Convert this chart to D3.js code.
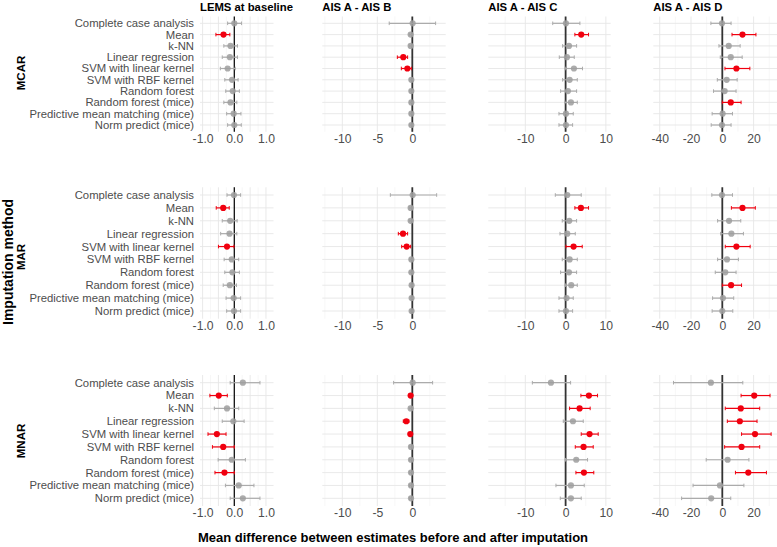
<!DOCTYPE html>
<html lang="en">
<head>
<meta charset="utf-8">
<title>Imputation forest plot</title>
<script src="https://cdn.jsdelivr.net/npm/d3@7"></script>
<style>
  body { margin: 0; background: #fff; }
  svg { font-family: "Liberation Sans", Arial, sans-serif; }
</style>
</head>
<body>
<div id="chart"></div>
<script>
// categories
const methods = ["Complete case analysis", "Mean", "k-NN", "Linear regression",
  "SVM with linear kernel", "SVM with RBF kernel", "Random forest",
  "Random forest (mice)", "Predictive mean matching (mice)", "Norm predict (mice)"];
const outcomes = ["LEMS at baseline", "AIS A - AIS B", "AIS A - AIS C", "AIS A - AIS D"];
const mechanisms = ["MCAR", "MAR", "MNAR"];

// tick labels per outcome column
const tickLabels = [[-1, 0, 1], [-10, -5, 0], [-10, 0, 10], [-40, -20, 0, 20]];

// MCAR: one row per outcome, one value per method
const mcarEst = [
  [0.0, -0.34, -0.12, -0.14, -0.21, -0.07, -0.05, -0.12, -0.02, 0.0],
  [0.05, -0.24, -0.24, -1.29, -0.71, -0.14, -0.14, -0.14, -0.14, -0.14],
  [0.08, 3.88, 0.83, 0.33, 2.07, 1.0, 0.58, 1.32, 0.08, 0.08],
  [-0.2, 12.9, 4.1, 5.4, 9.0, 2.8, 1.5, 5.4, 0.2, -0.2]];
const mcarLow = [
  [-0.21, -0.58, -0.33, -0.38, -0.44, -0.30, -0.27, -0.33, -0.24, -0.21],
  [-3.3, -0.45, -0.45, -2.14, -1.57, -0.35, -0.35, -0.35, -0.35, -0.35],
  [-3.2, 2.3, -0.74, -1.57, -0.1, -0.74, -1.24, -0.17, -1.65, -1.65],
  [-7.3, 6.2, -2.15, -1.3, 1.7, -3.2, -5.6, 0.0, -6.5, -7.1]];
const mcarHigh = [
  [0.23, -0.14, 0.10, 0.10, 0.03, 0.12, 0.16, 0.08, 0.21, 0.22],
  [3.33, 0.0, 0.0, -0.67, -0.14, 0.07, 0.07, 0.07, 0.07, 0.07],
  [3.55, 5.7, 2.73, 2.15, 4.2, 2.9, 2.73, 2.9, 1.9, 1.74],
  [5.6, 21.5, 11.4, 12.7, 17.6, 9.5, 8.8, 12.0, 6.5, 5.6]];
const mcarRed = [[1], [3, 4], [1], [1, 4, 7]];

// MAR
const marEst = [
  [-0.01, -0.35, -0.13, -0.15, -0.23, -0.08, -0.06, -0.14, -0.02, -0.01],
  [0.05, -0.24, -0.24, -1.33, -0.81, -0.14, -0.14, -0.1, -0.1, -0.1],
  [0.41, 3.8, 0.91, 0.41, 1.98, 1.0, 0.83, 1.4, 0.25, 0.08],
  [-0.2, 12.9, 4.3, 5.8, 9.0, 3.0, 1.9, 5.6, 0.4, 0.0]];
const marLow = [
  [-0.23, -0.57, -0.38, -0.43, -0.50, -0.32, -0.30, -0.35, -0.26, -0.24],
  [-3.14, -0.45, -0.45, -2.0, -1.52, -0.35, -0.35, -0.3, -0.3, -0.3],
  [-2.56, 2.3, -0.83, -1.4, 0.08, -0.83, -1.24, -0.08, -1.65, -1.65],
  [-6.7, 5.8, -3.0, -1.1, 1.9, -3.0, -4.5, 0.0, -6.2, -6.5]];
const marHigh = [
  [0.20, -0.16, 0.09, 0.08, -0.01, 0.14, 0.16, 0.07, 0.20, 0.20],
  [3.48, 0.0, 0.0, -0.67, -0.24, 0.07, 0.07, 0.1, 0.1, 0.1],
  [3.88, 5.7, 2.73, 2.4, 4.13, 2.9, 2.73, 2.9, 1.9, 1.74],
  [6.5, 21.1, 11.8, 13.5, 17.8, 10.3, 8.8, 12.3, 7.3, 6.7]];
const marRed = [[1, 4], [3, 4], [1, 4], [1, 4, 7]];

// MNAR
const mnarEst = [
  [0.27, -0.49, -0.23, -0.03, -0.55, -0.35, -0.08, -0.31, 0.14, 0.27],
  [0.05, -0.24, -0.24, -0.86, -0.29, -0.19, -0.19, -0.19, -0.19, -0.19],
  [-3.64, 5.79, 3.47, 1.82, 5.95, 4.46, 2.64, 4.55, 1.32, 1.32],
  [-7.3, 20.4, 11.8, 11.2, 20.9, 12.3, 3.4, 16.6, -1.5, -7.1]];
const mnarLow = [
  [-0.13, -0.77, -0.63, -0.38, -0.83, -0.69, -0.51, -0.61, -0.28, -0.13],
  [-2.67, -0.4, -0.45, -1.29, -0.45, -0.4, -0.4, -0.4, -0.4, -0.4],
  [-8.26, 3.8, 0.99, -0.58, 3.88, 2.4, 0.0, 2.56, -2.4, -1.32],
  [-31.2, 12.0, 1.9, 3.2, 12.3, 1.5, -10.3, 8.4, -18.7, -26.0]];
const mnarHigh = [
  [0.81, -0.22, 0.14, 0.31, -0.26, 0.0, 0.35, 0.0, 0.62, 0.81],
  [2.9, -0.08, 0.0, -0.48, -0.12, 0.02, 0.02, 0.02, 0.02, 0.02],
  [1.24, 7.93, 6.1, 4.38, 8.1, 6.86, 5.45, 7.0, 4.63, 3.88],
  [13.1, 30.5, 23.9, 22.2, 31.2, 23.9, 17.0, 28.2, 13.8, 5.4]];
const mnarRed = [[1, 4, 5, 7], [1, 3, 4], [1, 2, 4, 5, 7], [1, 2, 3, 4, 5, 7]];

const W = 777, H = 547;

// plain hyphen for negatives, like R does
const hy = f => v => f(v).replace("\u2212", "-");

// layout: column panels (pixel range + x domain + grid steps)
const cols = [
  {x0: 200, x1: 273.5, dom: [-1.082, 1.237], major: 0.5, minor: 0.25, fmt: hy(d3.format(".1f"))},
  {x0: 322.3, x1: 445.7, dom: [-12.86, 4.77], major: 5, minor: 2.5, fmt: hy(d3.format("d"))},
  {x0: 488.3, x1: 610.7, dom: [-19.2, 11.2], major: 10, minor: 5, fmt: hy(d3.format("d"))},
  {x0: 653.3, x1: 791, dom: [-44.1, 43.9], major: 20, minor: 10, fmt: hy(d3.format("d"))}
];
// rows: first and last category positions
const rowsLayout = [
  {first: 23.3, last: 125, est: mcarEst, low: mcarLow, high: mcarHigh, red: mcarRed},
  {first: 195, last: 311, est: marEst, low: marLow, high: marHigh, red: marRed},
  {first: 382.7, last: 498.3, est: mnarEst, low: mnarLow, high: mnarHigh, red: mnarRed}
];

const svg = d3.select("#chart").append("svg")
  .attr("width", W).attr("height", H);

svg.append("defs").append("clipPath").attr("id", "clipRight")
  .append("rect").attr("x", 0).attr("y", 0).attr("width", W).attr("height", H);

const root = svg.append("g").attr("clip-path", "url(#clipRight)");

const RED = "#f0000f", GREY = "#9e9e9e", GREYBAR = "#ababab";

rowsLayout.forEach((row, ri) => {
  const y = d3.scalePoint().domain(methods).range([row.first, row.last]);
  const step = y.step();
  const top = row.first - 0.6 * step, bottom = row.last + 0.6 * step;

  // category labels
  root.append("g").selectAll("text")
    .data(methods).enter().append("text")
    .attr("x", 194)
    .attr("y", d => y(d))
    .attr("dy", "0.35em")
    .attr("text-anchor", "end")
    .style("font-size", "11.3px")
    .style("fill", "#4d4d4d")
    .text(d => d);

  cols.forEach((c, ci) => {
    const x = d3.scaleLinear().domain(c.dom).range([c.x0, c.x1]);
    const g = root.append("g");

    // minor grid
    const minors = d3.range(Math.ceil(c.dom[0] / c.minor) * c.minor, c.dom[1], c.minor)
      .filter(v => Math.abs(v / c.major - Math.round(v / c.major)) > 1e-6);
    g.selectAll(".minor").data(minors).enter().append("line")
      .attr("x1", d => x(d)).attr("x2", d => x(d))
      .attr("y1", top).attr("y2", bottom)
      .attr("stroke", "#f2f2f2").attr("stroke-width", 0.6);

    // major grid
    const majors = d3.range(Math.ceil(c.dom[0] / c.major) * c.major, c.dom[1], c.major);
    g.selectAll(".major").data(majors).enter().append("line")
      .attr("x1", d => x(d)).attr("x2", d => x(d))
      .attr("y1", top).attr("y2", bottom)
      .attr("stroke", "#e6e6e6").attr("stroke-width", 0.9);
    g.selectAll(".hmajor").data(methods).enter().append("line")
      .attr("x1", c.x0).attr("x2", c.x1)
      .attr("y1", d => y(d)).attr("y2", d => y(d))
      .attr("stroke", "#e6e6e6").attr("stroke-width", 0.9);

    // tick labels
    const axis = d3.axisBottom(x).tickValues(tickLabels[ci]).tickFormat(c.fmt).tickSize(0).tickPadding(0);
    const ax = g.append("g").attr("transform", "translate(0," + (bottom + 2.5) + ")").call(axis);
    ax.select(".domain").remove();
    ax.selectAll("text").style("font-size", "12.2px").style("fill", "#4d4d4d")
      .style("font-family", "Liberation Sans, Arial, sans-serif");

    // zero line
    g.append("line")
      .attr("x1", x(0)).attr("x2", x(0)).attr("y1", top).attr("y2", bottom)
      .attr("stroke", ci === 0 ? "#000" : "#333")
      .attr("stroke-width", ci === 0 ? 1.2 : 1.8);

    const data = methods.map((m, i) => ({
      m: m, est: row.est[ci][i], lo: row.low[ci][i], hi: row.high[ci][i],
      red: row.red[ci].indexOf(i) >= 0
    }));

    // error bars
    const bars = g.selectAll(".bar").data(data).enter().append("g");
    bars.append("line")
      .attr("x1", d => x(d.lo)).attr("x2", d => x(d.hi))
      .attr("y1", d => y(d.m)).attr("y2", d => y(d.m))
      .attr("stroke", d => d.red ? RED : GREYBAR).attr("stroke-width", 1.2);
    bars.append("line")
      .attr("x1", d => x(d.lo)).attr("x2", d => x(d.lo))
      .attr("y1", d => y(d.m) - 1.8).attr("y2", d => y(d.m) + 1.8)
      .attr("stroke", d => d.red ? RED : GREYBAR).attr("stroke-width", 1);
    bars.append("line")
      .attr("x1", d => x(d.hi)).attr("x2", d => x(d.hi))
      .attr("y1", d => y(d.m) - 1.8).attr("y2", d => y(d.m) + 1.8)
      .attr("stroke", d => d.red ? RED : GREYBAR).attr("stroke-width", 1);

    // points
    g.selectAll(".pt").data(data).enter().append("circle")
      .attr("cx", d => x(d.est)).attr("cy", d => y(d.m))
      .attr("r", 3.1)
      .style("fill", d => d.red ? RED : GREY)
      .style("fill-opacity", d => d.red ? 1 : 0.85);
  });
});

// column titles
root.selectAll(".coltitle").data(outcomes).enter().append("text")
  .attr("x", (d, i) => cols[i].x0)
  .attr("y", 10.5)
  .style("font-size", "11.3px").style("font-weight", "bold").style("fill", "#000")
  .text(d => d);

// row labels
const rowCentres = [73, 257, 441];
mechanisms.forEach((m, i) => {
  svg.append("text")
    .attr("transform", "translate(25," + rowCentres[i] + ") rotate(-90)")
    .attr("text-anchor", "middle")
    .style("font-size", "11.5px").style("font-weight", "bold")
    .text(m);
});
svg.append("text")
  .attr("transform", "translate(12.5,262) rotate(-90)")
  .attr("text-anchor", "middle")
  .style("font-size", "14px").style("font-weight", "bold")
  .text("Imputation method");

// x axis title
svg.append("text")
  .attr("x", 393).attr("y", 542)
  .attr("text-anchor", "middle")
  .style("font-size", "13px").style("font-weight", "bold")
  .text("Mean difference between estimates before and after imputation");
</script>
</body>
</html>
